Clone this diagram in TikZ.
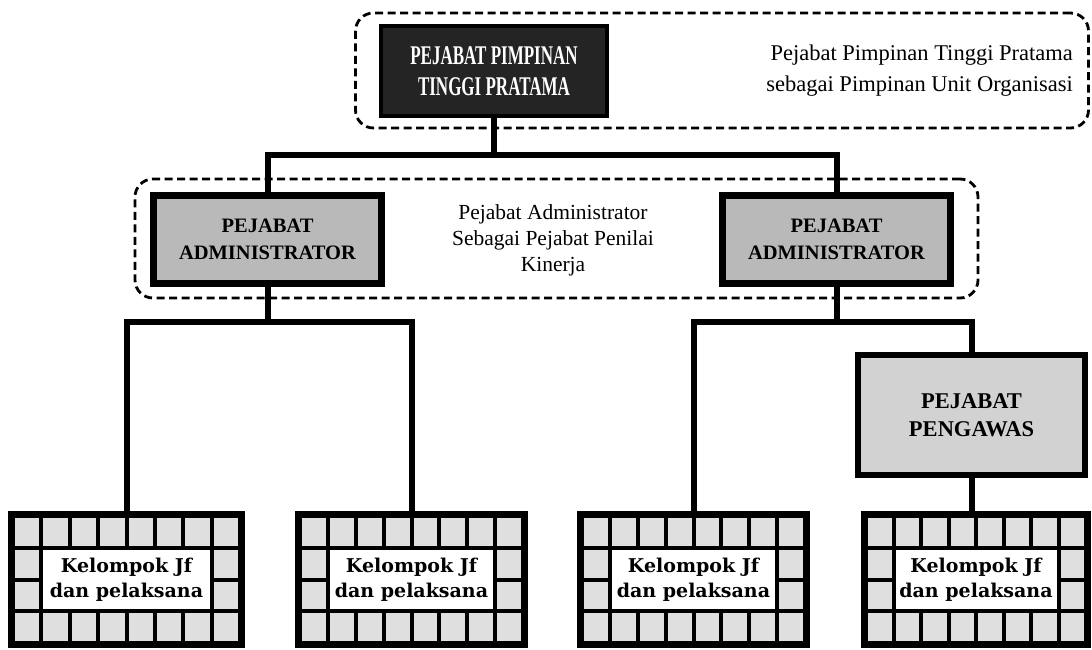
\documentclass[tikz,border=0pt]{standalone}
\usepackage{fontspec}
\setmainfont{Liberation Serif}
\newfontfamily\condfont[FakeStretch=0.63]{Liberation Serif}
\newfontfamily\slabfont{DejaVu Serif}
\tikzset{
  conn/.style={line width=6pt, line cap=rect},
  dashbox/.style={draw, line width=2.8pt, dash pattern=on 8pt off 4.5pt, rounded corners=18pt, inner sep=0pt},
  topbox/.style={draw=black, line width=4pt, fill=black!86, text=white, align=center, inner sep=0pt,
    minimum width=226pt, minimum height=90pt,
    font=\condfont\bfseries\fontsize{27}{31}\selectfont},
  adminbox/.style={draw=black, line width=7pt, fill=gray!55, align=center, inner sep=0pt,
    minimum width=228pt, minimum height=88pt,
    font=\bfseries\fontsize{20.5}{27}\selectfont},
  pengbox/.style={draw=black, line width=6pt, fill=gray!35, align=center, inner sep=0pt,
    minimum width=227pt, minimum height=120pt,
    font=\bfseries\fontsize{22.5}{28}\selectfont},
  note/.style={align=center, inner sep=0pt, font=\fontsize{21.5}{26}\selectfont},
  jfouter/.style={fill=black, draw=none, inner sep=0pt, minimum height=137pt},
  jfcell/.style={fill=gray!25},
  jftext/.style={fill=white, draw=none, inner sep=0pt, align=center,
    font=\slabfont\bfseries\fontsize{19}{25}\selectfont},
}
\newcommand{\jfbox}[3]{%
  \node[jfouter, minimum width=#3pt] (#1) at (#2,579.5) {};
  \pgfmathsetmacro{\jfcw}{(#3-42)/8}
  \pgfmathsetmacro{\jfxl}{#2-#3/2+7}
  \foreach \i in {0,...,7}{
    \foreach \j in {0,...,3}{
      \pgfmathtruncatemacro{\jfin}{(\i>0)&&(\i<7)&&(\j>0)&&(\j<3)}
      \ifnum\jfin=0
        \fill[jfcell] ({\jfxl+\i*(\jfcw+4)},{518+\j*31.75}) rectangle ++(\jfcw,27.75);
      \fi
    }
  }
  \pgfmathsetmacro{\jftw}{6*\jfcw+20}
  \node[jftext, minimum width=\jftw pt, minimum height=59.5pt] (#1t) at (#1.center) {Kelompok Jf\\dan pelaksana};
}
\begin{document}
\begin{tikzpicture}[x=1pt,y=-1pt]
\useasboundingbox (0,0) rectangle (1092,650);

% group frames
\node[dashbox, minimum width=733pt, minimum height=115pt] (grp1) at (722,70.5) {};
\node[dashbox, minimum width=843pt, minimum height=119pt] (grp2) at (556.5,238.5) {};

% top
\node[topbox] (top) at (494,71.5) {PEJABAT PIMPINAN\\TINGGI PRATAMA};
\node[note, anchor=east, align=right, font=\fontsize{22.5}{31}\selectfont] (topnote) at (1073,71)
  {Pejabat Pimpinan Tinggi Pratama\\sebagai Pimpinan Unit Organisasi};

% administrators
\node[adminbox] (adm1) at (267.5,239.5) {PEJABAT\\ADMINISTRATOR};
\node[adminbox] (adm2) at (836.5,239.5) {PEJABAT\\ADMINISTRATOR};
\node[note] (midnote) at (553,240) {Pejabat Administrator\\Sebagai Pejabat Penilai\\Kinerja};

% pengawas
\node[pengbox] (peng) at (971.5,415) {PEJABAT\\PENGAWAS};

% bottom groups
\jfbox{jf1}{126.5}{237}
\jfbox{jf2}{411.5}{233}
\jfbox{jf3}{693.5}{233}
\jfbox{jf4}{976}{230}

% connectors
\coordinate (j1) at (494,155);
\coordinate (j2) at (267.5,322);
\coordinate (j3) at (836.5,322);
\draw[conn] (top.south) -- (j1);
\draw[conn] (adm1.north) |- (j1) -| (adm2.north);
\draw[conn] (adm1.south) -- (j2);
\draw[conn] (jf1.north) |- (j2) -| (jf2.north);
\draw[conn] (adm2.south) -- (j3);
\draw[conn] (jf3.north) |- (j3) -| (peng.north);
\draw[conn] (peng.south) -- (peng.south |- jf4.north);
\end{tikzpicture}
\end{document}
